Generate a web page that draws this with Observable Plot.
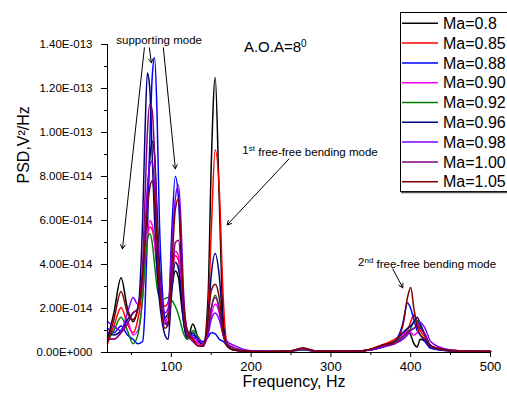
<!DOCTYPE html>
<html><head><meta charset="utf-8">
<script src="https://cdn.jsdelivr.net/npm/d3@7"></script>
<script src="https://cdn.jsdelivr.net/npm/@observablehq/plot@0.6"></script>
<style>
body{margin:0;background:#fff;}
#chart{width:507px;height:397px;}
svg{font-family:"Liberation Sans",Arial,sans-serif;}
</style></head><body><div id="chart"></div>
<script>
// Frequency grid (Hz)
const freq = [20,28,37,45,52,58,64,67,70,73,76,79,82,85,88,92,96,100,105,109,112,115,120,127,134,140,146,150,155,160,165,170,180,200,230,250,265,280,300,340,365,380,390,396,400,404,408,412,418,425,440,460,500];
// PSD values in units of 1e-14 V^2/Hz
const ma080 = [0.6,1.8,3.4,2.0,1.4,2.0,3.5,5.0,7.0,8.8,9.6,9.0,6.5,4.0,2.5,1.6,1.8,2.8,3.7,3.4,2.4,1.5,0.6,1.3,0.6,0.3,2.5,8.5,12.5,7.0,1.5,0.3,0.1,0.05,0.05,0.07,0.15,0.07,0.06,0.08,0.3,0.5,0.7,1.0,0.8,0.4,0.25,0.6,0.5,0.2,0.1,0.05,0.05];
const ma085 = [0.4,1.2,2.05,1.3,0.9,1.5,3.0,4.2,5.2,5.7,5.6,5.0,4.0,3.0,2.4,2.1,2.3,3.3,4.4,4.2,3.2,2.0,0.8,0.6,0.4,0.3,1.8,5.5,9.2,7.5,2.5,0.4,0.1,0.05,0.05,0.07,0.18,0.07,0.06,0.08,0.35,0.6,0.8,1.0,1.4,1.7,1.4,1.0,0.7,0.3,0.15,0.08,0.05];
const ma088 = [1.1,0.9,1.2,0.8,0.6,0.4,0.5,2.0,5.5,9.5,12.5,13.4,11.0,6.0,3.3,1.5,1.2,5.0,8.0,7.0,4.5,2.2,0.8,0.8,0.6,0.5,0.7,0.9,0.85,0.6,0.5,0.3,0.12,0.05,0.05,0.07,0.12,0.07,0.06,0.08,0.25,0.5,1.3,2.25,2.0,1.5,1.0,0.8,0.5,0.2,0.1,0.05,0.05];
const ma090 = [0.7,0.6,0.9,1.4,0.8,1.0,2.5,4.0,5.3,6.0,5.8,5.0,3.8,2.8,1.9,1.4,1.7,3.0,4.6,4.4,3.2,1.8,0.8,0.7,0.4,0.3,0.9,1.7,2.2,1.8,0.8,0.3,0.1,0.05,0.05,0.07,0.15,0.07,0.06,0.08,0.25,0.5,0.8,1.0,0.9,0.8,0.9,1.1,0.8,0.3,0.15,0.08,0.05];
const ma092 = [0.5,1.0,1.6,1.0,0.4,0.8,2.5,4.0,5.1,5.4,5.0,4.0,3.0,2.5,2.4,2.45,2.5,2.4,2.1,1.7,1.3,0.9,0.6,1.0,0.7,0.4,1.0,2.0,2.6,2.0,0.8,0.3,0.1,0.05,0.05,0.07,0.12,0.07,0.06,0.08,0.3,0.5,0.7,0.9,1.1,1.4,1.45,1.2,0.8,0.3,0.12,0.06,0.05];
const ma096 = [0.9,0.8,1.0,1.5,1.8,2.0,6.0,10.0,12.7,12.0,9.0,6.0,3.8,2.4,1.5,0.8,0.6,2.5,4.1,3.8,2.8,1.5,0.7,0.9,0.5,0.4,1.5,3.5,4.5,3.5,1.2,0.3,0.1,0.05,0.05,0.07,0.15,0.07,0.06,0.08,0.25,0.5,0.9,1.1,1.2,1.4,1.6,1.3,0.8,0.3,0.12,0.06,0.05];
const ma098 = [1.4,1.2,1.0,1.8,2.5,2.2,3.5,5.5,7.5,8.5,8.7,7.5,5.0,3.5,2.5,1.8,2.0,4.5,7.0,7.6,6.0,3.0,1.0,0.7,0.6,0.4,0.8,1.5,1.8,1.5,0.8,0.5,0.3,0.08,0.05,0.07,0.15,0.07,0.06,0.08,0.25,0.4,0.6,0.8,1.0,1.1,1.2,1.36,1.1,0.5,0.2,0.08,0.05];
const ma100 = [0.6,0.6,0.9,1.3,1.8,2.0,4.0,7.0,10.0,11.3,11.0,9.0,6.0,3.5,2.0,1.3,1.4,3.0,5.0,5.1,4.0,2.0,0.8,0.5,0.3,0.3,1.0,2.0,2.5,2.0,0.8,0.4,0.2,0.06,0.05,0.07,0.18,0.07,0.06,0.08,0.3,0.4,0.7,0.9,1.0,1.1,1.2,1.1,0.8,0.3,0.12,0.06,0.05];
const ma105 = [0.5,1.5,2.77,1.8,1.5,2.0,3.5,5.0,6.5,7.5,7.8,7.0,5.0,3.0,1.8,1.1,1.3,3.5,6.5,7.0,5.0,2.5,1.0,0.6,0.3,0.3,1.5,2.8,3.1,2.5,0.9,0.3,0.1,0.05,0.05,0.07,0.22,0.07,0.06,0.08,0.35,0.5,1.2,2.5,2.95,2.0,1.2,0.8,0.6,0.3,0.15,0.08,0.05];

const seriesNames = ["Ma=0.8","Ma=0.85","Ma=0.88","Ma=0.90","Ma=0.92","Ma=0.96","Ma=0.98","Ma=1.00","Ma=1.05"];
const seriesColors = ["#000000","#ff0000","#0000ff","#ff00ff","#008000","#000080","#8000ff","#800080","#800000"];
const seriesValues = [ma080,ma085,ma088,ma090,ma092,ma096,ma098,ma100,ma105];

const yMajor = [0,2,4,6,8,10,12,14];
const yMinor = [1,3,5,7,9,11,13];
const xMajor = [100,200,300,400,500];
const xMinor = [50,150,250,350,450];

// annotations: text, anchor frequency (Hz), anchor PSD (1e-14)
const noteText = ["supporting mode","1st free-free bending mode","2nd free-free bending mode"];
const noteX = [31,189,334];
const noteY = [14.2,9.17,4.08];
const aoaText = "A.O.A=80";
const aoaX = 191, aoaY = 13.9;
// arrows: start and end points
const arrX1 = [66.25,72.5,90,247.5,377.5];
const arrY1 = [13.85,13.85,13.85,8.8,3.8];
const arrX2 = [38.75,75,105,170,390];
const arrY2 = [4.71,13.17,8.35,5.8,2.94];

function fmt(v){
  if (v === 0) return "0.00E+000";
  const val = v*1e-14;
  let e = Math.floor(Math.log10(val));
  let m = val/Math.pow(10,e);
  if (m >= 9.995){ m/=10; e++; }
  if (m < 0.9995){ m*=10; e--; }
  return m.toFixed(2)+"E"+(e<0?"-":"+")+String(Math.abs(e)).padStart(3,"0");
}

const table = [];
seriesValues.forEach((vals,i)=>vals.forEach((v,j)=>table.push({f:freq[j], v, name:seriesNames[i]})));
const notes = noteText.map((t,i)=>({t, x:noteX[i], y:noteY[i]}));
const arrows = arrX1.map((x1,i)=>({x1, y1:arrY1[i], x2:arrX2[i], y2:arrY2[i]}));

const chart = Plot.plot({
  width:507, height:397,
  marginLeft:107, marginRight:17, marginTop:44, marginBottom:45,
  style:{fontFamily:'"Liberation Sans",Arial,sans-serif', background:"#fff", color:"#000"},
  x:{domain:[20,500]},
  y:{domain:[0,14]},
  color:{domain:seriesNames, range:seriesColors},
  marks:[
    Plot.line(table,{x:"f", y:"v", z:"name", stroke:"name", curve:"monotone-x", strokeWidth:1.5}),
    Plot.ruleX([20],{y1:0, y2:14, stroke:"#000"}),
    Plot.ruleY([0],{stroke:"#000"}),
    Plot.axisY(yMajor,{tickSize:6, tickPadding:9, tickFormat:fmt, fontSize:11.5, label:null}),
    Plot.axisY(yMinor,{tickSize:3, tickFormat:()=>"", label:null}),
    Plot.axisX(xMajor,{tickSize:5, tickPadding:4, fontSize:13, label:null}),
    Plot.axisX(xMinor,{tickSize:3, tickFormat:()=>"", label:null}),
    Plot.text(["Frequency, Hz"],{frameAnchor:"bottom", dy:34, dx:-5, fontSize:16}),
    Plot.text(["PSD,V²/Hz"],{frameAnchor:"left", dx:-84, dy:-15, rotate:-90, fontSize:16}),
    Plot.text(notes,{x:"x", y:"y", text:"t", textAnchor:"start", fontSize:11.5}),
    Plot.text([aoaText],{x:()=>aoaX, y:()=>aoaY, textAnchor:"start", fontSize:15}),
    Plot.arrow(arrows,{x1:"x1", y1:"y1", x2:"x2", y2:"y2", stroke:"#000", strokeWidth:1, headLength:7})
  ]
});
document.getElementById("chart").appendChild(chart);

const svg = d3.select(chart);
// superscripts
svg.selectAll("text").each(function(){
  const el = d3.select(this);
  const t = this.textContent;
  const sup = (base, s, rest, size) => {
    el.text(null);
    el.append("tspan").text(base);
    el.append("tspan").attr("dy","-0.45em").attr("font-size", size).text(s);
    if (rest) el.append("tspan").attr("dy","0.45em").text(rest);
  };
  if (t === "1st free-free bending mode") sup("1","st"," free-free bending mode",8);
  else if (t === "2nd free-free bending mode") sup("2","nd"," free-free bending mode",8);
  else if (t === aoaText) sup("A.O.A=8","0",null,10);
});

// legend
const lg = svg.append("g").attr("text-anchor","start");
lg.append("rect").attr("x",400.5).attr("y",12.5).attr("width",120).attr("height",179)
  .attr("fill","#fff").attr("stroke","#000").attr("stroke-width",1);
lg.append("line").attr("x1",401).attr("x2",507).attr("y1",192.5).attr("y2",192.5).attr("stroke","#555").attr("stroke-width",1.5);
seriesNames.forEach((n,i)=>{
  const y = 23.3 + i*19.8;
  lg.append("line").attr("x1",402).attr("x2",438).attr("y1",y).attr("y2",y)
    .attr("stroke",seriesColors[i]).attr("stroke-width",1.5);
  lg.append("text").attr("x",443).attr("y",y).attr("dy","0.36em").attr("text-anchor","start")
    .attr("font-size",16).attr("fill","#000").text(n);
});
</script>
</body></html>
